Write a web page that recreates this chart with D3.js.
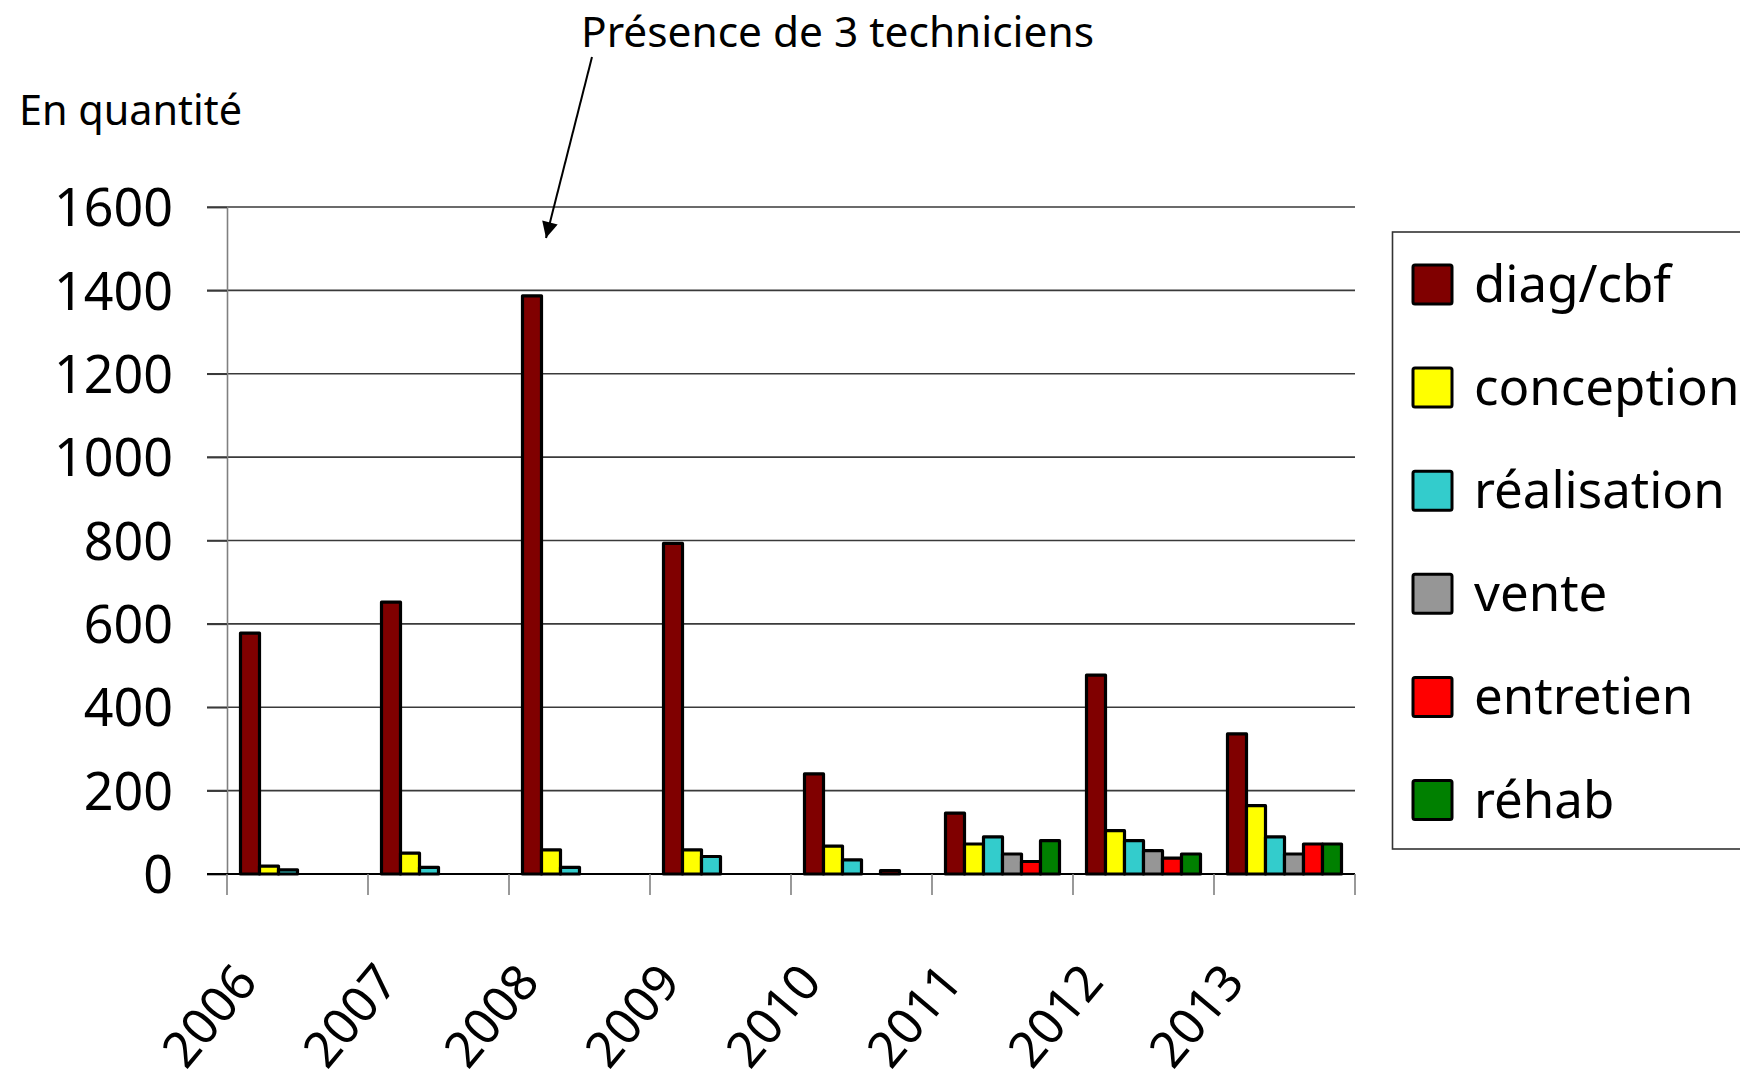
<html>
<head>
    <meta charset="utf-8">
    <script src="https://d3js.org/d3.v7.min.js"></script>
    <title>En quantité</title>
    <style>
        body { margin: 0; background: #fff; }
        text { font-family: "Noto Sans", "DejaVu Sans", sans-serif; fill: #000; }
    </style>
</head>
<body>
    <div id="my_data"></div>
    <script>
        // data
        var years = ["2006", "2007", "2008", "2009", "2010", "2011", "2012", "2013"];
        var series = ["diag/cbf", "conception", "réalisation", "vente", "entretien", "réhab"];
        var colors = ["#800000", "#FFFF00", "#33CCCC", "#969696", "#FF0000", "#008000"];
        var diag = [578, 652, 1387, 793, 240, 146, 477, 336];
        var conception = [19, 50, 58, 58, 67, 72, 104, 164];
        var realisation = [10, 16, 16, 42, 34, 89, 80, 89];
        var vente = [0, 0, 0, 0, 0, 48, 56, 48];
        var entretien = [0, 0, 0, 0, 8, 30, 38, 72];
        var rehab = [0, 0, 0, 0, 0, 80, 48, 72];
        var yTicks = [0, 200, 400, 600, 800, 1000, 1200, 1400, 1600];

        var values = [diag, conception, realisation, vente, entretien, rehab];

        var width = 1740, height = 1085;
        var svg = d3.select("#my_data")
            .append("svg")
            .attr("width", width)
            .attr("height", height);

        var x = d3.scaleBand()
            .domain(years)
            .range([227, 1355])
            .padding(0);

        var x1 = d3.scaleBand()
            .domain(series)
            .range([13.5, x.bandwidth() - 13.5])
            .padding(0);

        var y = d3.scaleLinear()
            .domain([0, 1600])
            .range([874, 207]);

        // gridlines
        svg.append("g")
            .selectAll("line")
            .data(yTicks.slice(1))
            .enter()
            .append("line")
            .attr("x1", 207)
            .attr("x2", 1355)
            .attr("y1", function(d) { return y(d); })
            .attr("y2", function(d) { return y(d); })
            .attr("stroke", "#3a3a3a")
            .attr("stroke-width", 1.6);

        // y axis
        var yAxis = svg.append("g")
            .attr("transform", "translate(227,0)")
            .call(d3.axisLeft(y).tickValues(yTicks).tickFormat(d3.format("d")).tickSize(20).tickPadding(34));
        yAxis.select(".domain").attr("stroke", "#808080").attr("stroke-width", 1.6);
        yAxis.selectAll(".tick line").attr("stroke", "#3a3a3a").attr("stroke-width", 1.6);
        yAxis.selectAll(".tick text")
            .style("font-family", "'Noto Sans', sans-serif")
            .style("font-size", "52px")
            .attr("dy", "0.36em");

        // x axis
        var xAxis = svg.append("g")
            .attr("transform", "translate(0,874)")
            .call(d3.axisBottom(x).tickSize(0).tickFormat(""));
        xAxis.select(".domain").remove();
        xAxis.append("line")
            .attr("x1", 207).attr("x2", 1355)
            .attr("stroke", "#000").attr("stroke-width", 2);
        xAxis.selectAll(".sep")
            .data(d3.range(years.length + 1))
            .enter()
            .append("line")
            .attr("x1", function(i) { return 227 + i * x.bandwidth(); })
            .attr("x2", function(i) { return 227 + i * x.bandwidth(); })
            .attr("y1", 0).attr("y2", 21)
            .attr("stroke", "#808080").attr("stroke-width", 1.6);

        // year labels, rotated
        svg.append("g")
            .selectAll("text")
            .data(years)
            .enter()
            .append("text")
            .attr("transform", function(d) {
                return "translate(" + (x(d) + x.bandwidth() / 2 - 38) + ",983) rotate(-50)";
            })
            .attr("text-anchor", "end")
            .style("font-size", "50px")
            .text(function(d) { return d; });

        // bars
        var groups = svg.append("g")
            .selectAll("g")
            .data(years)
            .enter()
            .append("g")
            .attr("transform", function(d) { return "translate(" + x(d) + ",0)"; });

        groups.selectAll("rect")
            .data(function(d, i) {
                return series.map(function(s, j) { return {key: s, idx: j, value: values[j][i]}; })
                    .filter(function(e) { return e.value > 0; });
            })
            .enter()
            .append("rect")
            .attr("x", function(d) { return x1(d.key); })
            .attr("y", function(d) { return y(d.value); })
            .attr("width", x1.bandwidth())
            .attr("height", function(d) { return y(0) - y(d.value); })
            .attr("fill", function(d) { return colors[d.idx]; })
            .attr("stroke", "#000")
            .attr("stroke-width", 3.2)
            .attr("stroke-linejoin", "round");

        // legend
        var legend = svg.append("g");
        legend.append("rect")
            .attr("x", 1392.5).attr("y", 232)
            .attr("width", 400).attr("height", 617)
            .attr("fill", "#fff")
            .attr("stroke", "#333").attr("stroke-width", 1.6);

        var items = legend.selectAll(".item")
            .data(series)
            .enter()
            .append("g")
            .attr("transform", function(d, i) { return "translate(1413," + (265 + i * 103.1) + ")"; });
        items.append("rect")
            .attr("width", 39).attr("height", 39)
            .attr("rx", 2)
            .attr("fill", function(d, i) { return colors[i]; })
            .attr("stroke", "#000").attr("stroke-width", 3);
        items.append("text")
            .attr("x", 61)
            .attr("y", 37)
            .style("font-size", "51px")
            .text(function(d) { return d; });

        // titles
        svg.append("text")
            .attr("x", 19).attr("y", 125)
            .attr("textLength", 223)
            .attr("lengthAdjust", "spacingAndGlyphs")
            .style("font-size", "42px")
            .text("En quantité");

        svg.append("text")
            .attr("x", 581).attr("y", 47)
            .attr("textLength", 513)
            .attr("lengthAdjust", "spacingAndGlyphs")
            .style("font-size", "41px")
            .text("Présence de 3 techniciens");

        // arrow to the 2008 peak
        svg.append("defs").append("marker")
            .attr("id", "head")
            .attr("viewBox", "0 0 10 10")
            .attr("refX", 10).attr("refY", 5)
            .attr("markerWidth", 20).attr("markerHeight", 16)
            .attr("markerUnits", "userSpaceOnUse")
            .attr("orient", "auto")
            .append("path")
            .attr("d", "M0,0 L10,5 L0,10 z")
            .attr("fill", "#000");

        svg.append("line")
            .attr("x1", 592).attr("y1", 57)
            .attr("x2", 546).attr("y2", 238)
            .attr("stroke", "#000").attr("stroke-width", 2)
            .attr("marker-end", "url(#head)");
    </script>
</body>
</html>
